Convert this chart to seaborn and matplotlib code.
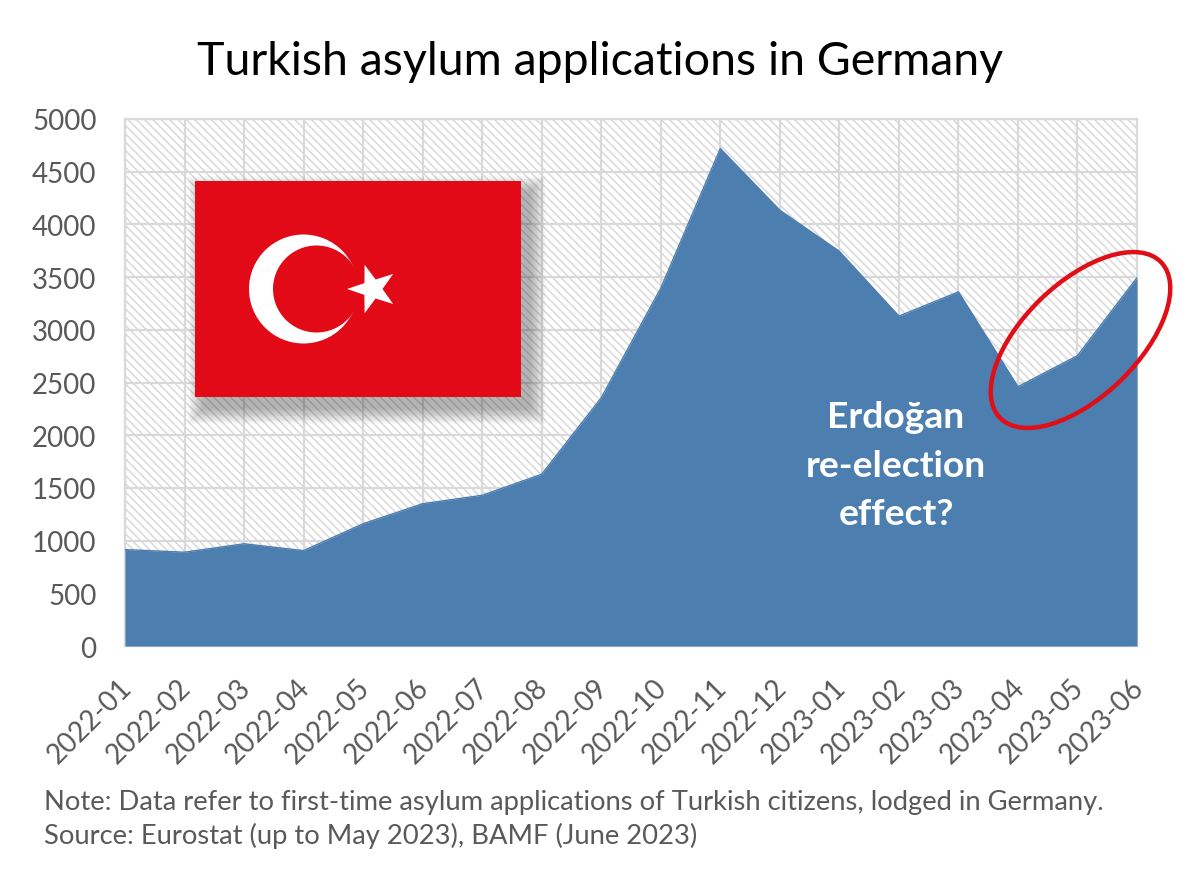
import numpy as np
import pandas as pd
import matplotlib
matplotlib.use('Agg')
import matplotlib.pyplot as plt
from matplotlib.patches import Rectangle, Circle, Ellipse, Polygon
from matplotlib.transforms import ScaledTranslation
import seaborn as sns

months = ['2022-01', '2022-02', '2022-03', '2022-04', '2022-05', '2022-06',
          '2022-07', '2022-08', '2022-09', '2022-10', '2022-11', '2022-12',
          '2023-01', '2023-02', '2023-03', '2023-04', '2023-05', '2023-06']
applications = [915, 890, 970, 905, 1160, 1350, 1430, 1630, 2355, 3395, 4720,
                4135, 3745, 3130, 3360, 2460, 2755, 3495]
y_ticks = [0, 500, 1000, 1500, 2000, 2500, 3000, 3500, 4000, 4500, 5000]

sns.set_theme(style='whitegrid')
plt.rcParams['font.family'] = ['Lato', 'DejaVu Sans']
plt.rcParams['hatch.linewidth'] = 1.1
plt.rcParams['hatch.color'] = '#d9d9d9'

BLUE = '#4c7eb0'
GRID = '#d9d9d9'
TICK = '#595959'

df = pd.DataFrame({'pos': np.arange(len(months)), 'month': months, 'value': applications})

fig = plt.figure(figsize=(12, 8.7), dpi=100)
ax = fig.add_axes([125 / 1200, (870 - 647) / 870, (1137 - 125) / 1200, (647 - 120) / 870])

# fond hachuré + grille
ax.patch.set_facecolor('white')
ax.patch.set_edgecolor('#d9d9d9')
ax.patch.set_hatch('\\\\\\\\')
ax.patch.set_linewidth(0)

sns.lineplot(data=df, x='pos', y='value', color=BLUE, linewidth=1, ax=ax, zorder=3)
ax.fill_between(df['pos'], df['value'], color=BLUE, linewidth=0, zorder=3)

ax.set_xlim(0, len(months) - 1)
ax.set_ylim(0, 5000)
ax.set_xticks(df['pos'])
ax.set_xticklabels(months, rotation=45, ha='right', rotation_mode='anchor', fontsize=20, color=TICK)
ax.set_yticks(y_ticks)
ax.set_yticklabels(y_ticks, fontsize=20, color=TICK)
ax.set_xlabel('')
ax.set_ylabel('')
ax.grid(True, color=GRID, linewidth=1.6, zorder=1)
ax.set_axisbelow(True)
ax.tick_params(axis='x', pad=20, length=0)
ax.tick_params(axis='y', pad=20.5, length=0)
for s in ax.spines.values():
    s.set_color(GRID)
    s.set_linewidth(1.6)

# décale les étiquettes de mois un peu à gauche
shift = ScaledTranslation(-5 / 72, 0, fig.dpi_scale_trans)
for lab in ax.get_xticklabels():
    lab.set_transform(lab.get_transform() + shift)

# calque en pixels pour le drapeau et l'ellipse
over = fig.add_axes([0, 0, 1, 1])
over.set_xlim(0, 1200)
over.set_ylim(870, 0)
over.axis('off')
over.patch.set_alpha(0)

# ombre du drapeau, décalée vers le bas à droite
for grow in np.linspace(16, 0, 20):
    over.add_patch(Rectangle((195 + 9 - grow, 182 + 11 - grow), 326 + 2 * grow, 216 + 2 * grow,
                             facecolor='#303030', alpha=0.02, linewidth=0))

RED = '#e30a17'
over.add_patch(Rectangle((195, 182), 326, 216, facecolor=RED, linewidth=0))
over.add_patch(Circle((303.5, 290), 54.5, facecolor='white', linewidth=0))
over.add_patch(Circle((316.5, 290), 43.5, facecolor=RED, linewidth=0))
ang = np.deg2rad(180 + 36 * np.arange(10))
rad = np.where(np.arange(10) % 2 == 0, 25.5, 10)
over.add_patch(Polygon(np.column_stack([372.5 + rad * np.cos(ang), 290 + rad * np.sin(ang)]),
                       facecolor='white', linewidth=0))

over.add_patch(Ellipse((1080.5, 341), 224, 114, angle=-44, fill=False, edgecolor='#e00f17', linewidth=3.2))

for txt, y in zip(['Erdoğan', 're-election', 'effect?'], [418, 467, 515]):
    over.text(896, y, txt, color='white', fontsize=26.8, fontweight='bold', ha='center', va='center')

over.text(600, 62, 'Turkish asylum applications in Germany', fontsize=33.5, color='black', ha='center', va='center')
over.text(44, 803, 'Note: Data refer to first-time asylum applications of Turkish citizens, lodged in Germany.',
          fontsize=19.7, color=TICK, ha='left', va='center')
over.text(44, 836, 'Source: Eurostat (up to May 2023), BAMF (June 2023)',
          fontsize=19.7, color=TICK, ha='left', va='center')

fig.savefig('out.png', dpi=100, facecolor='white')
